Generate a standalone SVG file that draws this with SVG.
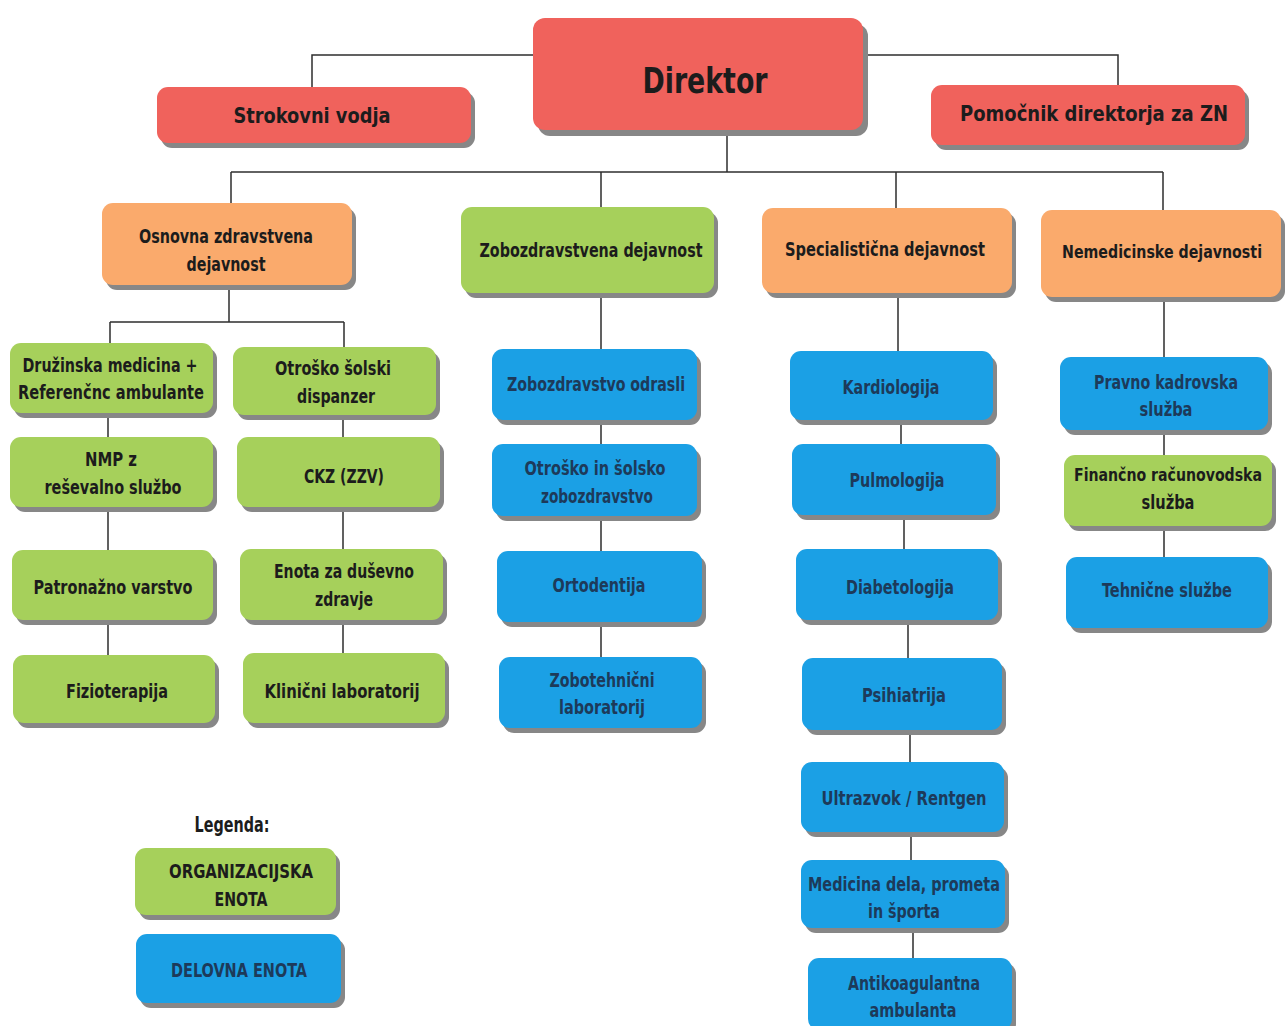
<svg xmlns="http://www.w3.org/2000/svg" width="1285" height="1026" viewBox="0 0 1285 1026">
<style>
.sh{fill:#878787}
.red{fill:#F0625C}
.org{fill:#FAAA6C}
.grn{fill:#A6D05B}
.blu{fill:#1BA0E5}
text{font-family:"Liberation Sans Narrow","DejaVu Sans Condensed","Liberation Sans",sans-serif;font-weight:bold;font-size:20px;text-anchor:middle;dominant-baseline:central;fill:#1c1c1c}
.bt{fill:#1d3a5a}
.big{font-size:36px}
.md{font-size:22px}
.sm{font-size:17px}
#connectors path{fill:none;stroke:#2e2e2e;stroke-width:1.5}
</style>
<rect width="1285" height="1026" fill="#ffffff"/>
<g id="connectors">
<path d="M533,55 H312 V87"/>
<path d="M865,55 H1118 V85"/>
<path d="M727,130 V172"/>
<path d="M231,172 H1163"/>
<path d="M231,172 V203 M601,172 V207 M896,172 V208 M1163,172 V210"/>
<path d="M229,285 V322 M110,322 H344 M110,322 V343 M344,322 V347"/>
<path d="M108,413 V437 M108,507 V550 M108,620 V655"/>
<path d="M343,415 V437 M343,507 V549 M343,620 V653"/>
<path d="M601,293 V349 M601,420 V444 M601,516 V551 M601,622 V657"/>
<path d="M898,293 V351 M901,420 V444 M904,515 V549 M908,620 V658 M910,730 V762 M911,832 V860 M913,928 V958"/>
<path d="M1164,297 V357 M1164,430 V455 M1164,526 V557"/>
</g>
<g id="direktor"><rect class="sh" x="538" y="24" width="330" height="112" rx="12"/><rect class="red" x="533" y="18" width="330" height="112" rx="12"/><text class="big" x="705" y="80" textLength="125" lengthAdjust="spacingAndGlyphs">Direktor</text></g>
<g id="strokovni"><rect class="sh" x="161" y="92" width="314" height="56" rx="11"/><rect class="red" x="157" y="87" width="314" height="56" rx="11"/><text class="md" x="312" y="115" textLength="157" lengthAdjust="spacingAndGlyphs">Strokovni vodja</text></g>
<g id="pomocnik"><rect class="sh" x="935" y="90" width="314" height="60" rx="11"/><rect class="red" x="931" y="85" width="314" height="60" rx="11"/><text class="md" x="1094" y="113" textLength="268" lengthAdjust="spacingAndGlyphs">Pomočnik direktorja za ZN</text></g>

<g id="osnovna"><rect class="sh" x="106" y="208" width="250" height="82" rx="11"/><rect class="org" x="102" y="203" width="250" height="82" rx="11"/><text x="226" y="236" textLength="174" lengthAdjust="spacingAndGlyphs">Osnovna zdravstvena</text><text x="226" y="264" textLength="79" lengthAdjust="spacingAndGlyphs">dejavnost</text></g>
<g id="zobozdravstvena"><rect class="sh" x="465" y="212" width="253" height="86" rx="11"/><rect class="grn" x="461" y="207" width="253" height="86" rx="11"/><text x="591" y="250" textLength="223" lengthAdjust="spacingAndGlyphs">Zobozdravstvena dejavnost</text></g>
<g id="specialisticna"><rect class="sh" x="766" y="213" width="250" height="85" rx="11"/><rect class="org" x="762" y="208" width="250" height="85" rx="11"/><text x="885" y="249" textLength="200" lengthAdjust="spacingAndGlyphs">Specialistična dejavnost</text></g>
<g id="nemedicinske"><rect class="sh" x="1045" y="215" width="240" height="87" rx="11"/><rect class="org" x="1041" y="210" width="240" height="87" rx="11"/><text class="sm" x="1162" y="252" textLength="200" lengthAdjust="spacingAndGlyphs">Nemedicinske dejavnosti</text></g>

<g id="druzinska"><rect class="sh" x="14" y="348" width="203" height="70" rx="11"/><rect class="grn" x="10" y="343" width="203" height="70" rx="11"/><text x="110" y="365" textLength="175" lengthAdjust="spacingAndGlyphs">Družinska medicina +</text><text x="111" y="392" textLength="186" lengthAdjust="spacingAndGlyphs">Referenčnc ambulante</text></g>
<g id="otrosko-solski"><rect class="sh" x="237" y="352" width="203" height="68" rx="11"/><rect class="grn" x="233" y="347" width="203" height="68" rx="11"/><text x="333" y="368" textLength="116" lengthAdjust="spacingAndGlyphs">Otroško šolski</text><text x="336" y="396" textLength="78" lengthAdjust="spacingAndGlyphs">dispanzer</text></g>
<g id="nmp"><rect class="sh" x="14" y="442" width="203" height="70" rx="11"/><rect class="grn" x="10" y="437" width="203" height="70" rx="11"/><text x="111" y="459" textLength="52" lengthAdjust="spacingAndGlyphs">NMP z</text><text x="113" y="487" textLength="137" lengthAdjust="spacingAndGlyphs">reševalno službo</text></g>
<g id="ckz"><rect class="sh" x="241" y="442" width="203" height="70" rx="11"/><rect class="grn" x="237" y="437" width="203" height="70" rx="11"/><text x="344" y="476" textLength="80" lengthAdjust="spacingAndGlyphs">CKZ (ZZV)</text></g>
<g id="patronazno"><rect class="sh" x="16" y="555" width="201" height="70" rx="11"/><rect class="grn" x="12" y="550" width="201" height="70" rx="11"/><text x="113" y="587" textLength="159" lengthAdjust="spacingAndGlyphs">Patronažno varstvo</text></g>
<g id="dusevno"><rect class="sh" x="244" y="554" width="203" height="71" rx="11"/><rect class="grn" x="240" y="549" width="203" height="71" rx="11"/><text x="344" y="571" textLength="140" lengthAdjust="spacingAndGlyphs">Enota za duševno</text><text x="344" y="599" textLength="58" lengthAdjust="spacingAndGlyphs">zdravje</text></g>
<g id="fizioterapija"><rect class="sh" x="17" y="660" width="202" height="68" rx="11"/><rect class="grn" x="13" y="655" width="202" height="68" rx="11"/><text x="117" y="691" textLength="102" lengthAdjust="spacingAndGlyphs">Fizioterapija</text></g>
<g id="klinicni"><rect class="sh" x="247" y="658" width="202" height="70" rx="11"/><rect class="grn" x="243" y="653" width="202" height="70" rx="11"/><text x="342" y="691" textLength="155" lengthAdjust="spacingAndGlyphs">Klinični laboratorij</text></g>

<g id="zob-odrasli"><rect class="sh" x="496" y="354" width="205" height="71" rx="11"/><rect class="blu" x="492" y="349" width="205" height="71" rx="11"/><text class="bt" x="596" y="384" textLength="178" lengthAdjust="spacingAndGlyphs">Zobozdravstvo odrasli</text></g>
<g id="zob-otrosko"><rect class="sh" x="496" y="449" width="205" height="72" rx="11"/><rect class="blu" x="492" y="444" width="205" height="72" rx="11"/><text class="bt" x="595" y="468" textLength="141" lengthAdjust="spacingAndGlyphs">Otroško in šolsko</text><text class="bt" x="597" y="496" textLength="112" lengthAdjust="spacingAndGlyphs">zobozdravstvo</text></g>
<g id="ortodentija"><rect class="sh" x="501" y="556" width="205" height="71" rx="11"/><rect class="blu" x="497" y="551" width="205" height="71" rx="11"/><text class="bt" x="599" y="585" textLength="93" lengthAdjust="spacingAndGlyphs">Ortodentija</text></g>
<g id="zobotehnicni"><rect class="sh" x="503" y="662" width="203" height="71" rx="11"/><rect class="blu" x="499" y="657" width="203" height="71" rx="11"/><text class="bt" x="602" y="680" textLength="105" lengthAdjust="spacingAndGlyphs">Zobotehnični</text><text class="bt" x="602" y="707" textLength="86" lengthAdjust="spacingAndGlyphs">laboratorij</text></g>

<g id="kardiologija"><rect class="sh" x="794" y="356" width="203" height="69" rx="11"/><rect class="blu" x="790" y="351" width="203" height="69" rx="11"/><text class="bt" x="891" y="387" textLength="97" lengthAdjust="spacingAndGlyphs">Kardiologija</text></g>
<g id="pulmologija"><rect class="sh" x="796" y="449" width="204" height="71" rx="11"/><rect class="blu" x="792" y="444" width="204" height="71" rx="11"/><text class="bt" x="897" y="480" textLength="95" lengthAdjust="spacingAndGlyphs">Pulmologija</text></g>
<g id="diabetologija"><rect class="sh" x="800" y="554" width="202" height="71" rx="11"/><rect class="blu" x="796" y="549" width="202" height="71" rx="11"/><text class="bt" x="900" y="587" textLength="108" lengthAdjust="spacingAndGlyphs">Diabetologija</text></g>
<g id="psihiatrija"><rect class="sh" x="806" y="663" width="200" height="72" rx="11"/><rect class="blu" x="802" y="658" width="200" height="72" rx="11"/><text class="bt" x="904" y="695" textLength="84" lengthAdjust="spacingAndGlyphs">Psihiatrija</text></g>
<g id="ultrazvok"><rect class="sh" x="805" y="767" width="203" height="70" rx="11"/><rect class="blu" x="801" y="762" width="203" height="70" rx="11"/><text class="bt" x="904" y="798" textLength="165" lengthAdjust="spacingAndGlyphs">Ultrazvok / Rentgen</text></g>
<g id="medicina-dela"><rect class="sh" x="805" y="865" width="204" height="68" rx="11"/><rect class="blu" x="801" y="860" width="204" height="68" rx="11"/><text class="bt" x="904" y="884" textLength="192" lengthAdjust="spacingAndGlyphs">Medicina dela, prometa</text><text class="bt" x="904" y="911" textLength="72" lengthAdjust="spacingAndGlyphs">in športa</text></g>
<g id="antikoagulantna"><rect class="sh" x="812" y="963" width="204" height="72" rx="11"/><rect class="blu" x="808" y="958" width="204" height="72" rx="11"/><text class="bt" x="914" y="983" textLength="132" lengthAdjust="spacingAndGlyphs">Antikoagulantna</text><text class="bt" x="913" y="1010" textLength="87" lengthAdjust="spacingAndGlyphs">ambulanta</text></g>

<g id="pravno"><rect class="sh" x="1064" y="362" width="208" height="73" rx="11"/><rect class="blu" x="1060" y="357" width="208" height="73" rx="11"/><text class="bt" x="1166" y="382" textLength="144" lengthAdjust="spacingAndGlyphs">Pravno kadrovska</text><text class="bt" x="1166" y="409" textLength="53" lengthAdjust="spacingAndGlyphs">služba</text></g>
<g id="financno"><rect class="sh" x="1068" y="460" width="208" height="71" rx="11"/><rect class="grn" x="1064" y="455" width="208" height="71" rx="11"/><text class="sm" x="1168" y="475" textLength="188" lengthAdjust="spacingAndGlyphs">Finančno računovodska</text><text x="1168" y="502" textLength="53" lengthAdjust="spacingAndGlyphs">služba</text></g>
<g id="tehnicne"><rect class="sh" x="1070" y="562" width="202" height="71" rx="11"/><rect class="blu" x="1066" y="557" width="202" height="71" rx="11"/><text class="bt" x="1167" y="590" textLength="130" lengthAdjust="spacingAndGlyphs">Tehnične službe</text></g>

<g id="legenda"><text class="md" x="232" y="824" textLength="75" lengthAdjust="spacingAndGlyphs">Legenda:</text></g>
<g id="legend-org"><rect class="sh" x="139" y="853" width="201" height="67" rx="11"/><rect class="grn" x="135" y="848" width="201" height="67" rx="11"/><text x="241" y="871" textLength="144" lengthAdjust="spacingAndGlyphs">ORGANIZACIJSKA</text><text x="241" y="899" textLength="53" lengthAdjust="spacingAndGlyphs">ENOTA</text></g>
<g id="legend-del"><rect class="sh" x="140" y="939" width="205" height="69" rx="11"/><rect class="blu" x="136" y="934" width="205" height="69" rx="11"/><text class="bt" x="239" y="970" textLength="136" lengthAdjust="spacingAndGlyphs">DELOVNA ENOTA</text></g>
</svg>
